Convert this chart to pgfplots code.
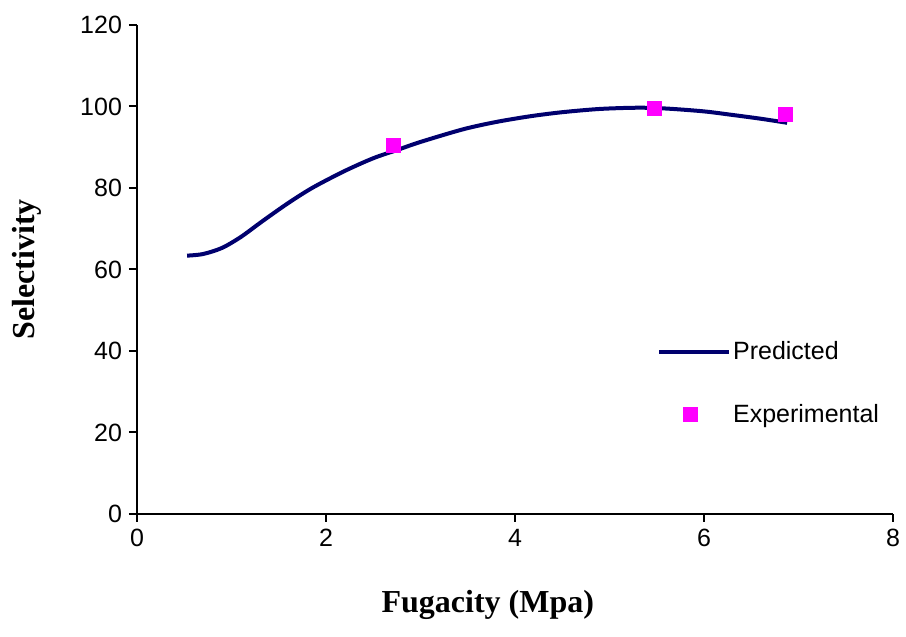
\documentclass[border=0pt]{standalone}
\usepackage{pgfplots}
\pgfplotsset{compat=1.18}
\usepackage{fontspec}
\setmainfont{Liberation Sans}
\newfontfamily\timesfont{Liberation Serif}
\definecolor{navyline}{RGB}{0,0,110}
\definecolor{magpt}{RGB}{255,0,255}
\pgfplotsset{
  predleg/.style={legend image code/.code={\draw[##1] (0pt,0pt) -- (35pt,0pt);}},
  expleg/.style={legend image code/.code={\path plot[mark=square*, mark size=3.5pt, mark options={draw=magpt, fill=magpt}] coordinates {(15.5pt,0pt)}; \path[draw=none, fill=none] (0pt,0pt) -- (36.5pt,0pt);}},
}
\begin{document}
\begin{tikzpicture}
\path[use as bounding box] (-68.5pt,-61.5pt) rectangle (384.5pt,257pt);
\begin{axis}[
  at={(0,0)}, anchor=south west,
  scale only axis,
  width=378pt, height=244.5pt,
  xmin=0, xmax=8, ymin=0, ymax=120,
  axis x line*=bottom, axis y line*=left,
  axis line style={line width=1pt, black},
  xtick={0,2,...,8}, ytick={0,20,...,120},
  tick align=outside,
  major tick length=4pt,
  tick style={line width=1pt, black},
  /pgf/number format/assume math mode=true,
  tick label style={font=\fontsize{12.5}{15}\selectfont},
  xlabel={Fugacity (Mpa)},
  ylabel={Selectivity},
  xlabel style={font=\timesfont\bfseries\fontsize{16}{19}\selectfont, at={(axis description cs:0.464,0)}, anchor=center, yshift=-45.5pt},
  ylabel style={font=\timesfont\bfseries\fontsize{16}{19}\selectfont, at={(axis description cs:-0.146,0.5)}, anchor=center},
  legend style={draw=none, fill=none, at={(axis cs:5.5,42.6)}, anchor=north west,
    font=\fontsize{12.5}{15}\selectfont, row sep=19.5pt, inner sep=0pt,
    nodes={inner sep=0.5pt}},
  legend cell align=left,
  clip=false,
]
\addplot[navyline, line width=2pt, smooth, no markers, predleg]
coordinates {
(0.53,63.4) (0.7,63.8) (0.9,65.3) (1.1,68.0) (1.33,71.9) (1.6,76.3) (1.86,80.1)
(2.2,84.2) (2.5,87.3) (2.75,89.3) (3.0,91.3) (3.45,94.4) (3.8,96.2)
(4.16,97.6) (4.5,98.6) (4.9,99.4) (5.3,99.7) (5.6,99.5) (6.0,98.8)
(6.31,97.9) (6.6,97.0) (6.88,96.0)
};
\addlegendentry{Predicted}
\addplot[only marks, mark=square*, mark size=3.5pt, color=magpt, mark options={draw=magpt, fill=magpt}, expleg]
coordinates {(2.71,90.5) (5.47,99.6) (6.86,98.0)};
\addlegendentry{Experimental}
\end{axis}
\end{tikzpicture}
\end{document}
